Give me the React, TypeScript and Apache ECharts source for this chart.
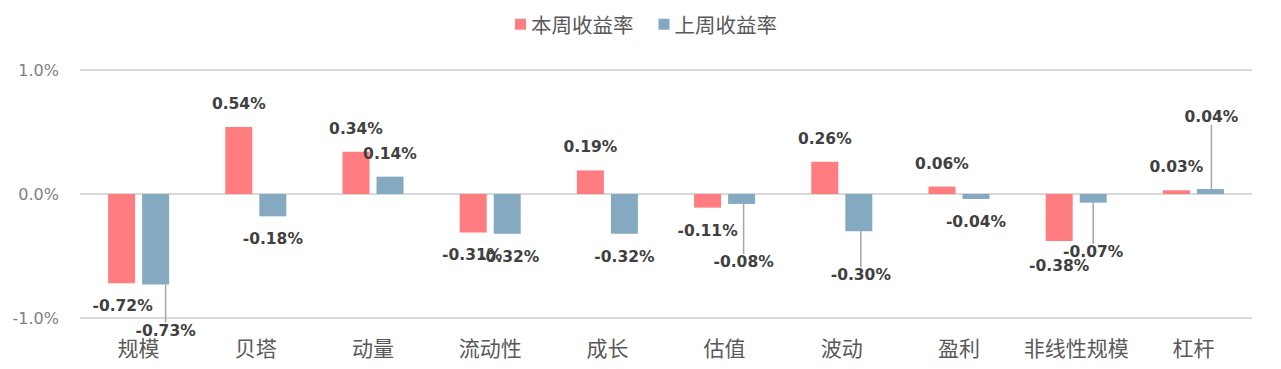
import React, { useEffect, useRef } from "react";
import * as echarts from "echarts";

const categories = ["规模", "贝塔", "动量", "流动性", "成长", "估值", "波动", "盈利", "非线性规模", "杠杆"];
const thisWeek = [-0.72, 0.54, 0.34, -0.31, 0.19, -0.11, 0.26, 0.06, -0.38, 0.03];
const lastWeek = [-0.73, -0.18, 0.14, -0.32, -0.32, -0.08, -0.30, -0.04, -0.07, 0.04];
const seriesNames = ["本周收益率", "上周收益率"];
const yTicks = [-1, 0, 1];

// label nudges (dx, dy) per series, and which labels carry a leader line
const labelNudgeA: [number, number][] = [[1, 0], [0, 0], [0, 0], [-1, 0], [0, 0], [0, 0], [0, 0], [0, 0], [0, 2], [0, 0]];
const labelNudgeB: [number, number][] = [[10, 23], [0, 0], [0, 0], [2, 0], [0, 0], [2, 35], [2, 21], [0, 0], [0, 26], [1, -49]];
const leaderA = [false, false, false, false, false, false, false, false, false, false];
const leaderB = [true, false, false, false, false, true, true, false, true, true];

const RED = "#FF7C80";
const BLUE = "#84A9C0";

export default function App() {
  const ref = useRef<HTMLDivElement>(null);
  useEffect(() => {
    if (!ref.current) return;
    const chart = echarts.init(ref.current, null, { renderer: "svg" });
    const labelStyle = {
      show: true,
      position: "outside" as any,
      distance: 15,
      fontFamily: "DejaVu Sans",
      fontWeight: "bold" as const,
      fontSize: 15.5,
      color: "#404040",
      formatter: (p: any) => `${Number(p.value).toFixed(2)}%`,
    };
    const mkData = (vals: number[], leaders: boolean[]) =>
      vals.map((v, i) => ({
        value: v,
        labelLine: { show: leaders[i], lineStyle: { color: "#a6a6a6", width: 1.5 } },
      }));
    const nudges = [labelNudgeA, labelNudgeB];
    chart.setOption({
      animation: false,
      legend: {
        data: seriesNames,
        left: 515,
        top: 14,
        padding: 0,
        icon: "rect",
        itemWidth: 11,
        itemHeight: 11,
        itemGap: 25,
        textStyle: { fontFamily: "Noto Sans CJK SC", fontSize: 20.5, color: "#595959" },
      },
      grid: { left: 80, right: 29, top: 70, bottom: 51, containLabel: false },
      xAxis: {
        type: "category",
        data: categories,
        axisLine: { show: false },
        axisTick: { show: false },
        axisLabel: {
          interval: 0,
          margin: 18,
          fontFamily: "Noto Sans CJK SC",
          fontSize: 21,
          color: "#595959",
        },
      },
      yAxis: {
        type: "value",
        min: yTicks[0],
        max: yTicks[yTicks.length - 1],
        interval: 1,
        axisLine: { show: false },
        axisTick: { show: false },
        splitLine: { lineStyle: { color: "#d9d9d9", width: 2 } },
        axisLabel: {
          margin: 21,
          fontFamily: "DejaVu Sans",
          fontSize: 16,
          color: "#808080",
          formatter: (v: number) => `${v.toFixed(1)}%`,
        },
      },
      series: [
        {
          name: seriesNames[0],
          type: "bar",
          barWidth: 27,
          barGap: "26%",
          itemStyle: { color: RED },
          label: labelStyle,
          labelLayout: (p: any) => ({ dx: nudges[0][p.dataIndex][0], dy: nudges[0][p.dataIndex][1] }),
          data: mkData(thisWeek, leaderA),
        },
        {
          name: seriesNames[1],
          type: "bar",
          barWidth: 27,
          barGap: "26%",
          itemStyle: { color: BLUE },
          label: labelStyle,
          labelLayout: (p: any) => ({ dx: nudges[1][p.dataIndex][0], dy: nudges[1][p.dataIndex][1] }),
          data: mkData(lastWeek, leaderB),
        },
      ],
    });
    return () => chart.dispose();
  }, []);
  return (
    <div
      ref={ref}
      style={{ position: "fixed", left: 0, top: 0, width: 1281, height: 369, background: "#fff" }}
    />
  );
}
